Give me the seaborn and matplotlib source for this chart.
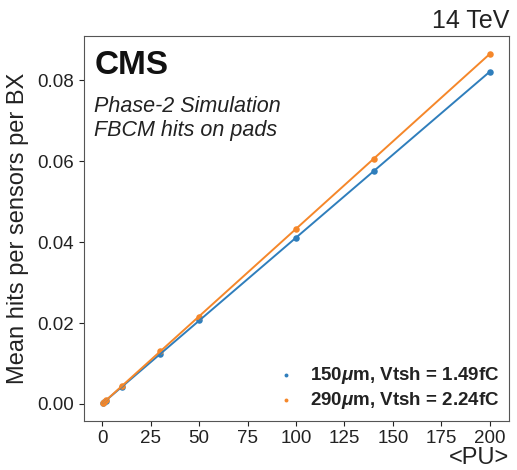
import numpy as np
import pandas as pd
import matplotlib
matplotlib.use("Agg")
import matplotlib.pyplot as plt
import seaborn as sns

# values
pu = [0.5, 1, 2, 10, 30, 50, 100, 140, 200]
hits_150 = [0.0002, 0.0004, 0.0008, 0.0043, 0.0124, 0.0207, 0.0411, 0.0576, 0.0821]
hits_290 = [0.0002, 0.0004, 0.0009, 0.0045, 0.0131, 0.0216, 0.0432, 0.0606, 0.0866]
labels = [r"150$\mu$m, Vtsh = 1.49fC", r"290$\mu$m, Vtsh = 2.24fC"]
colors = ["#2f7ebc", "#f5872a"]

plt.rcParams["font.family"] = ["Liberation Sans", "DejaVu Sans"]
plt.rcParams["mathtext.fontset"] = "custom"
plt.rcParams["mathtext.it"] = "Liberation Sans:italic:bold"

fig = plt.figure(figsize=(5.17, 4.70), dpi=100)
ax = fig.add_axes([0.162, 0.105, 0.823, 0.818])

for y, lab, c in zip([hits_150, hits_290], labels, colors):
    df = pd.DataFrame({"pu": pu, "hits": y})
    sns.regplot(data=df, x="pu", y="hits", ax=ax, ci=None, color=c, label=lab,
                scatter_kws={"s": 22, "alpha": 1, "linewidths": 0},
                line_kws={"lw": 1.4})

ax.set_xticks([0, 25, 50, 75, 100, 125, 150, 175, 200])
ax.set_yticks([0.00, 0.02, 0.04, 0.06, 0.08])
ax.tick_params(labelsize=13.5, colors="#222222")
for s in ax.spines.values():
    s.set_color("#555555")
ax.set_ylabel("Mean hits per sensors per BX", fontsize=17, color="#222222", labelpad=6)
ax.set_xlabel("<PU>", fontsize=17, loc="right", labelpad=0, color="#222222")
ax.set_title("14 TeV", fontsize=18, loc="right", pad=6, color="#222222")

ax.text(0.025, 0.965, "CMS", transform=ax.transAxes, fontsize=24, fontweight="bold",
        va="top", color="#111111")
ax.text(0.025, 0.845, "Phase-2 Simulation\nFBCM hits on pads", transform=ax.transAxes,
        fontsize=15.5, style="italic", va="top", linespacing=1.2, color="#222222")

leg = ax.legend(loc="lower right", prop={"size": 13.5, "weight": "bold"}, markerscale=0.6,
                handletextpad=0.3, frameon=False, borderaxespad=0.1, labelspacing=0.25)
for t in leg.get_texts():
    t.set_color("#222222")

fig.savefig("out.png", dpi=100)
